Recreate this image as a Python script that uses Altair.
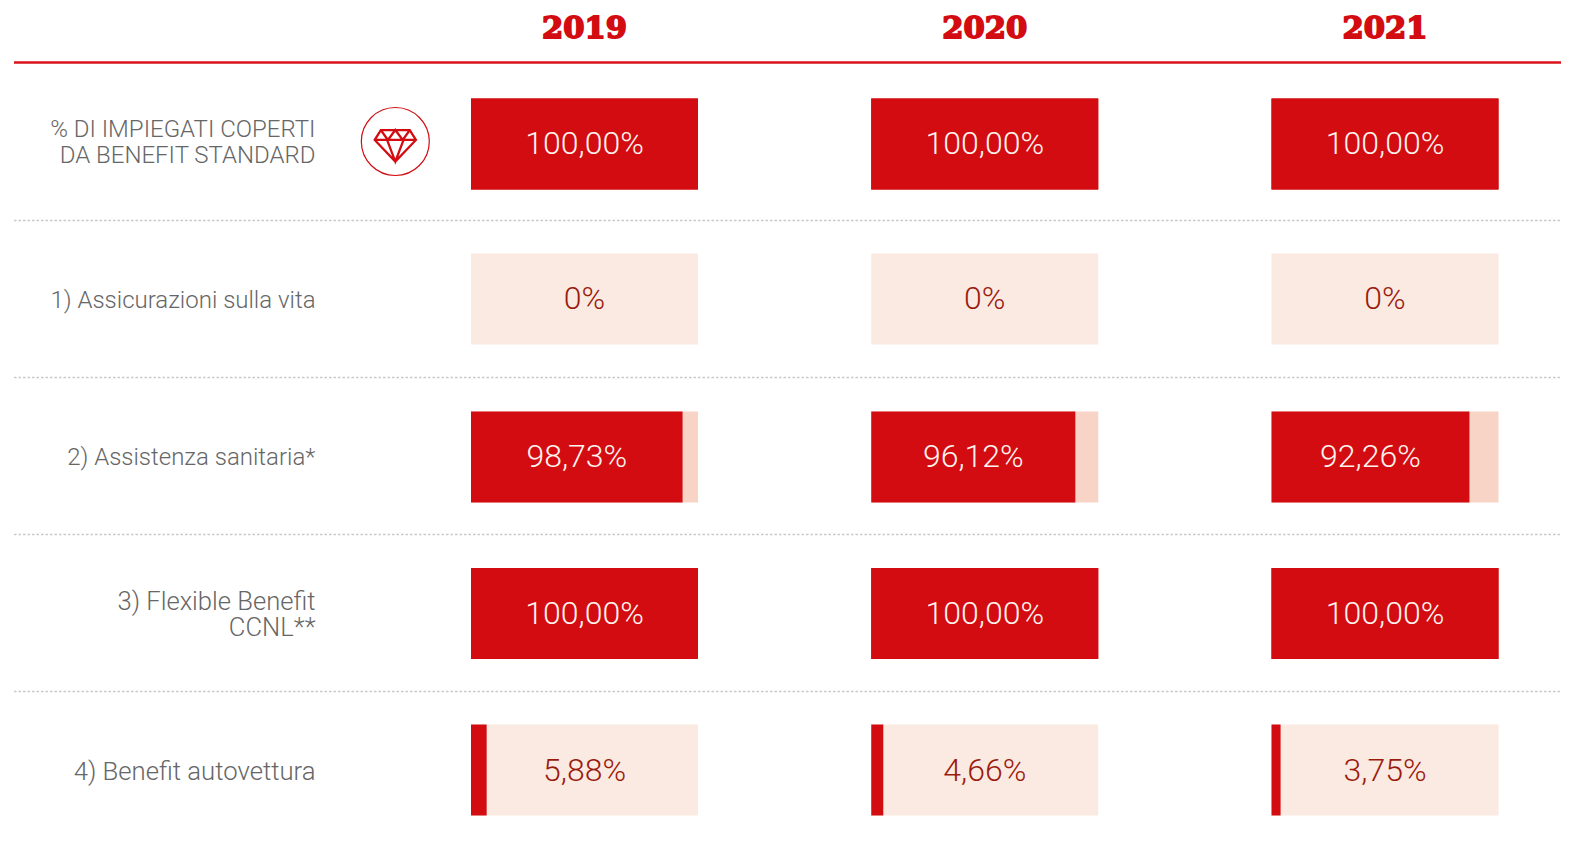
import altair as alt
import pandas as pd

years = ["2019", "2020", "2021"]
row_labels = ["% DI IMPIEGATI COPERTI\nDA BENEFIT STANDARD", "1) Assicurazioni sulla vita",
              "2) Assistenza sanitaria*", "3) Flexible Benefit\nCCNL**", "4) Benefit autovettura"]
label_pos = [-0.087, 1.002, 2.009, 2.929, 4.012]
label_sizes = [24.0, 24.0, 24.0, 25.6, 25.7]
row_pos = [0, 0.99, 2, 3, 4]
value_pos = [0.003, 0.993, 2.003, 3.003, 4.006]
divider_pos = [0.489, 1.492, 2.495, 3.498]
header_pos = [-0.521]

labels_2019 = ["100,00%", "0%", "98,73%", "100,00%", "5,88%"]
labels_2020 = ["100,00%", "0%", "96,12%", "100,00%", "4,66%"]
labels_2021 = ["100,00%", "0%", "92,26%", "100,00%", "3,75%"]
# Drawn bar length as a share of the track
fill_2019 = [100, 0, 93.2, 100, 6.9]
fill_2020 = [100, 0, 89.9, 100, 5.3]
fill_2021 = [100, 0, 87.2, 100, 4.0]
track_colors = ["#D20C11", "#FBEAE2", "#F7D4C6", "#D20C11", "#FBEAE2"]
text_colors = ["#FFF3EE", "#9A1B0E", "#FFF3EE", "#FFF3EE", "#9A1B0E"]
centre_on_fill = [False, False, True, False, False]

RED = "#D20C11"
W, H = 1553, 825
TRACK = 227 / 400.25
HALF = 91 / 156.5 / 2

rows = []
for c, (labs, fills) in enumerate(zip([labels_2019, labels_2020, labels_2021],
                                      [fill_2019, fill_2020, fill_2021])):
    for r in range(5):
        share = fills[r] / 100 * TRACK
        rows.append(dict(
            col=c, row=value_pos[r], top=row_pos[r] - HALF, bot=row_pos[r] + HALF,
            left=c, right=c + TRACK, fill_end=c + share,
            track=track_colors[r], ink=text_colors[r], label=labs[r],
            text_x=c + (share / 2 if centre_on_fill[r] else TRACK / 2),
        ))
df = pd.DataFrame(rows)
x0, y0 = 463.0, 136.0
xs = alt.Scale(domain=[-x0 / 400.25, (W - x0) / 400.25], range=[0, W], nice=False, zero=False)
ys = alt.Scale(domain=[-y0 / 156.5, (H - y0) / 156.5], range=[0, H], nice=False, zero=False)
X = lambda f: alt.X(f, type="quantitative", scale=xs, axis=None)
Y = lambda f: alt.Y(f, type="quantitative", scale=ys, axis=None)

tracks = alt.Chart(df).mark_rect().encode(
    x=X("left"), x2="right", y=Y("top"), y2="bot", color=alt.Color("track:N", scale=None))
fills_ = alt.Chart(df[df.fill_end > df.left]).mark_rect(color=RED).encode(
    x=X("left"), x2="fill_end", y=Y("top"), y2="bot")
values = alt.Chart(df).mark_text(font="Roboto", fontWeight=300, fontSize=32, baseline="middle", align="center").encode(
    x=X("text_x"), y=Y("row"), text="label:N", color=alt.Color("ink:N", scale=None))

heads = pd.DataFrame({"year": years, "x": [i + TRACK / 2 for i in range(3)], "y": [-0.735] * 3})
year_text = alt.Chart(heads).mark_text(font="DejaVu Serif", fontWeight="bold", fontSize=30.5, color=RED, stroke=RED,
                                       strokeWidth=1.8, baseline="middle").encode(
    x=X("x"), y=Y("y"), text="year:N")

lab_df = pd.DataFrame({"label": row_labels, "row": label_pos, "fs": label_sizes})
lab_df["label"] = lab_df["label"].str.split("\n")
row_text = alt.Chart(lab_df).mark_text(font="Roboto", fontWeight=300, color="#666666", align="right",
                                       baseline="middle", lineHeight=26).encode(
    x=alt.value(307.5), y=Y("row"), text="label", size=alt.Size("fs:Q", scale=None))

dividers = alt.Chart(pd.DataFrame({"y": divider_pos})).mark_rule(color="#C9C9C9", strokeWidth=1.5, strokeDash=[2.5, 2]).encode(
    y=Y("y"), x=alt.value(6), x2=alt.value(W))
header = alt.Chart(pd.DataFrame({"y": header_pos})).mark_rule(color="#D9131B", strokeWidth=2.5).encode(
    y=Y("y"), x=alt.value(6), x2=alt.value(W))

DIAMOND = ("M-0.7,-0.75L0.7,-0.75L1,-0.27L0,0.78L-1,-0.27Z M-1,-0.27L1,-0.27 "
           "M-0.7,-0.75L-0.36,-0.27L0,-0.75L0.36,-0.27L0.7,-0.75 M-0.4,-0.27L0,0.78L0.4,-0.27")
icon_at = pd.DataFrame({"x": [-0.1891], "y": [-0.0160], "y2": [0.0096]})
circle = alt.Chart(icon_at).mark_point(shape="circle", size=4624, filled=False, color=RED, strokeWidth=1.2, opacity=1).encode(
    x=X("x"), y=Y("y"))
gem = alt.Chart(icon_at).mark_point(shape=DIAMOND, size=1700, filled=False, color=RED, strokeWidth=2.3, opacity=1).encode(
    x=X("x"), y=Y("y2"))

chart = alt.layer(header, dividers, tracks, fills_, values, year_text, row_text, circle, gem).properties(
    width=W, height=H, padding=0, autosize=alt.AutoSizeParams(type="none"), background="white"
).configure_view(stroke=None)

chart.save("out.html", embed_options={"renderer": "svg", "actions": False})
